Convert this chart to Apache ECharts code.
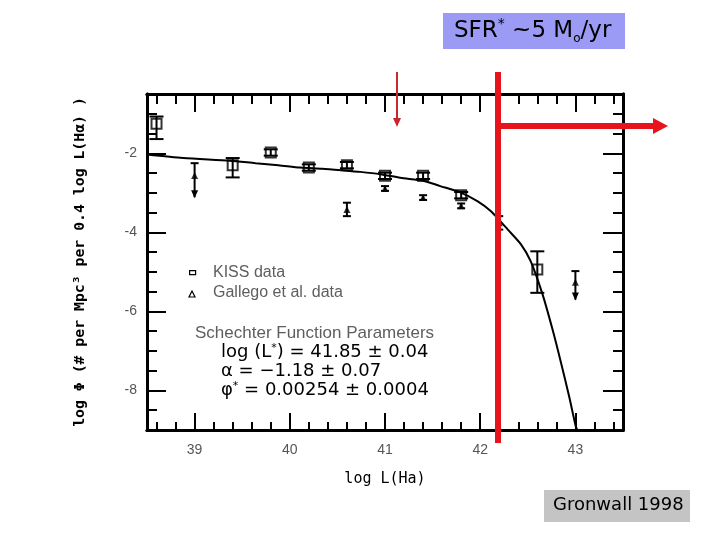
<!DOCTYPE html>
<html><head><meta charset="utf-8">
<script src="https://cdn.jsdelivr.net/npm/echarts@6/dist/echarts.min.js"></script>
<style>html,body{margin:0;padding:0;background:#fff}#c{width:720px;height:540px}</style>
</head><body><div id="c"></div>
<script>
// ---- data ----
const kissX  = [38.6, 39.4, 39.8, 40.2, 40.6, 41.0, 41.4, 41.8, 42.6];
const kissY  = [-1.25, -2.30, -1.98, -2.36, -2.30, -2.57, -2.57, -3.06, -4.94];
const kissLo = [-1.64, -2.61, -2.06, -2.44, -2.38, -2.65, -2.65, -3.14, -5.53];
const kissHi = [-1.07, -2.12, -1.90, -2.28, -2.22, -2.49, -2.49, -2.98, -4.48];

const galX   = [39.0, 40.6, 41.0, 41.4, 41.8, 42.2, 43.0];
const galY   = [-2.56, -3.42, -2.89, -3.12, -3.33, -3.76, -5.26];
const galLo  = [-3.11, -3.59, -2.95, -3.18, -3.39, -3.93, -5.70];
const galHi  = [-2.25, -3.25, -2.83, -3.06, -3.27, -3.59, -4.98];
const galArrow = [1, 0, 0, 0, 0, 0, 1];

const curveX = [38.5, 38.88, 39.37, 39.64, 39.88, 40.11, 40.34, 40.55, 40.74, 40.95, 41.16, 41.41, 41.58, 41.79, 41.97, 42.11, 42.22, 42.29, 42.43, 42.53, 42.655, 42.76, 42.85, 42.935, 43.005, 43.02];
const curveY = [-2.03, -2.12, -2.19, -2.25, -2.30, -2.36, -2.39, -2.43, -2.47, -2.53, -2.62, -2.70, -2.83, -2.99, -3.21, -3.46, -3.74, -3.93, -4.31, -4.73, -5.57, -6.46, -7.31, -8.16, -8.92, -9.0];

const xMajorTicks = [39, 40, 41, 42, 43];
const xMinorTicks = [38.6, 38.8, 39.2, 39.4, 39.6, 39.8, 40.2, 40.4, 40.6, 40.8, 41.2, 41.4, 41.6, 41.8, 42.2, 42.4, 42.6, 42.8, 43.2, 43.4];
const yMajorTicks = [-8, -6, -4, -2];
const yMinorTicks = [-8.5, -7.5, -7, -6.5, -5.5, -5, -4.5, -3.5, -3, -2.5, -1.5, -1];

const xTitle = 'log L(Ha)';
const yTitle = 'log Φ (# per Mpc³ per 0.4 log L(Hα) )';

// ---- chart ----
const chart = echarts.init(document.getElementById('c'), null, {renderer: 'canvas'});

function xAx(pos, vals, len, showLabel) {
  const a = {
    type: 'value', position: pos, min: 38.5, max: 43.5,
    axisLine: {show: true, onZero: false, lineStyle: {color: '#000', width: 3}},
    axisTick: {show: true, inside: true, length: len, customValues: vals, lineStyle: {color: '#000', width: 2}},
    axisLabel: {show: showLabel, customValues: vals, color: '#555', fontSize: 14, fontFamily: 'Liberation Sans', margin: 13},
    splitLine: {show: false}
  };
  if (showLabel) {
    a.name = xTitle; a.nameLocation = 'middle'; a.nameGap = 42;
    a.nameTextStyle = {fontFamily: 'DejaVu Sans Mono', fontSize: 15, color: '#000'};
  }
  return a;
}
function yAx(pos, vals, len, showLabel) {
  const a = {
    type: 'value', position: pos, min: -9, max: -0.5,
    axisLine: {show: true, onZero: false, lineStyle: {color: '#000', width: 3}},
    axisTick: {show: true, inside: true, length: len, customValues: vals, lineStyle: {color: '#000', width: 2}},
    axisLabel: {show: showLabel, customValues: vals, color: '#555', fontSize: 14, fontFamily: 'Liberation Sans', margin: 10},
    splitLine: {show: false}
  };
  if (showLabel) {
    a.name = yTitle; a.nameLocation = 'middle'; a.nameGap = 59; a.nameRotate = 90;
    a.nameTextStyle = {fontFamily: 'DejaVu Sans Mono', fontSize: 14.8, fontWeight: 'bold', color: '#000'};
  }
  return a;
}

function errRender(capHalf) {
  return function (params, api) {
    const x = api.value(0), lo = api.value(1), hi = api.value(2), arrow = api.value(3);
    const a = api.coord([x, hi]), b = api.coord([x, lo]);
    const st = {stroke: '#000', lineWidth: 2};
    const ch = [
      {type: 'line', shape: {x1: a[0], y1: a[1], x2: b[0], y2: b[1]}, style: st},
      {type: 'line', shape: {x1: a[0] - capHalf, y1: a[1], x2: a[0] + capHalf, y2: a[1]}, style: st}
    ];
    if (arrow) {
      ch.push({type: 'polygon', shape: {points: [[b[0] - 3.5, b[1] - 7], [b[0] + 3.5, b[1] - 7], [b[0], b[1] + 1]]}, style: {fill: '#000'}});
    } else {
      ch.push({type: 'line', shape: {x1: b[0] - capHalf, y1: b[1], x2: b[0] + capHalf, y2: b[1]}, style: st});
    }
    return {type: 'group', children: ch};
  };
}

const kissErr = kissX.map((x, i) => [x, kissLo[i], kissHi[i], 0]);
const galErr = galX.map((x, i) => [x, galLo[i], galHi[i], galArrow[i]]);

const lblGray = {fontFamily: 'Liberation Sans', fill: '#5e5e5e', fontSize: 16};
const eqStyle = {fontFamily: 'DejaVu Sans', fill: '#000', fontSize: 18};
const supRich = {s: {fontFamily: 'DejaVu Sans', fontSize: 11, verticalAlign: 'top', lineHeight: 12, fill: '#000'}};

chart.setOption({
  animation: false,
  backgroundColor: '#fff',
  grid: {left: 147, right: 97, top: 94, bottom: 110, containLabel: false},
  xAxis: [
    xAx('bottom', xMajorTicks, 17, true),
    xAx('bottom', xMinorTicks, 8, false),
    xAx('top', xMajorTicks, 18, false),
    xAx('top', xMinorTicks, 10, false)
  ],
  yAxis: [
    yAx('left', yMajorTicks, 19, true),
    yAx('left', yMinorTicks, 10, false),
    yAx('right', yMajorTicks, 20, false),
    yAx('right', yMinorTicks, 10, false)
  ],
  series: [
    {type: 'line', name: 'Schechter', data: curveX.map((x, i) => [x, curveY[i]]), showSymbol: false, symbol: 'none',
     smooth: 0.25, lineStyle: {color: '#000', width: 2}, clip: true, z: 2},
    {type: 'custom', name: 'KISS err', renderItem: errRender(7), data: kissErr, encode: {x: 0, y: [1, 2]}, z: 3},
    {type: 'custom', name: 'Gallego err', renderItem: errRender(4), data: galErr, encode: {x: 0, y: [1, 2]}, z: 3},
    {type: 'scatter', name: 'KISS data', data: kissX.map((x, i) => [x, kissY[i]]), symbol: 'rect', symbolSize: [10, 10],
     itemStyle: {color: 'rgba(0,0,0,0)', borderColor: '#000', borderWidth: 2}, z: 4},
    {type: 'scatter', name: 'Gallego et al. data', data: galX.map((x, i) => [x, galY[i]]), symbol: 'triangle', symbolSize: 7,
     itemStyle: {color: '#000'}, z: 4}
  ],
  graphic: [
    // legend-like block
    {type: 'rect', left: 189, top: 270, shape: {width: 6, height: 4}, style: {fill: '#fff', stroke: '#000', lineWidth: 1.2}, z: 10},
    {type: 'text', left: 213, top: 265, style: Object.assign({text: 'KISS data'}, lblGray), z: 10},
    {type: 'polygon', shape: {points: [[189, 297], [195, 297], [192, 291]]}, style: {fill: '#fff', stroke: '#000', lineWidth: 1.2}, z: 10},
    {type: 'text', left: 213, top: 285, style: Object.assign({text: 'Gallego et al. data'}, lblGray), z: 10},
    {type: 'text', left: 195, top: 325, style: {text: 'Schechter Function Parameters', fontFamily: 'Liberation Sans', fill: '#5e5e5e', fontSize: 17}, z: 10},
    {type: 'text', left: 221, top: 343, style: Object.assign({text: 'log (L{s|*}) = 41.85 ± 0.04', rich: supRich}, eqStyle), z: 10},
    {type: 'text', left: 221, top: 362, style: Object.assign({text: 'α = −1.18 ± 0.07'}, eqStyle), z: 10},
    {type: 'text', left: 221, top: 381, style: Object.assign({text: 'φ{s|*} = 0.00254 ± 0.0004', rich: supRich}, eqStyle), z: 10},

    // red annotations
    {type: 'rect', shape: {x: 495, y: 72, width: 6, height: 371}, style: {fill: '#e8141c'}, z: 100},
    {type: 'rect', shape: {x: 498, y: 123, width: 156, height: 6}, style: {fill: '#e8141c'}, z: 100},
    {type: 'polygon', shape: {points: [[653, 118], [668, 126], [653, 134]]}, style: {fill: '#e8141c'}, z: 100},
    {type: 'line', shape: {x1: 397, y1: 72, x2: 397, y2: 120}, style: {stroke: '#c8282c', lineWidth: 2}, z: 100},
    {type: 'polygon', shape: {points: [[393, 118], [401, 118], [397, 127]]}, style: {fill: '#c8282c'}, z: 100},

    // SFR box
    {type: 'rect', shape: {x: 443, y: 13, width: 182, height: 36}, style: {fill: '#9b9bf5'}, z: 50},
    {type: 'text', left: 454, top: 17, style: {
      text: '{n|SFR}{sup|*}{n| ~5 M}{sub|o}{n|/yr}',
      rich: {
        n: {fontFamily: 'DejaVu Sans', fontSize: 23, fill: '#000', lineHeight: 28},
        sup: {fontFamily: 'DejaVu Sans', fontSize: 14, fill: '#000', lineHeight: 14, verticalAlign: 'top'},
        sub: {fontFamily: 'DejaVu Sans', fontSize: 12, fill: '#000', lineHeight: 12, verticalAlign: 'bottom'}
      }}, z: 51},

    // Gronwall box
    {type: 'rect', shape: {x: 544, y: 490, width: 146, height: 32}, style: {fill: '#c4c4c4'}, z: 50},
    {type: 'text', left: 553, top: 496, style: {text: 'Gronwall 1998', fontFamily: 'DejaVu Sans', fontSize: 18, fill: '#000'}, z: 51}
  ]
});
</script>
</body></html>
